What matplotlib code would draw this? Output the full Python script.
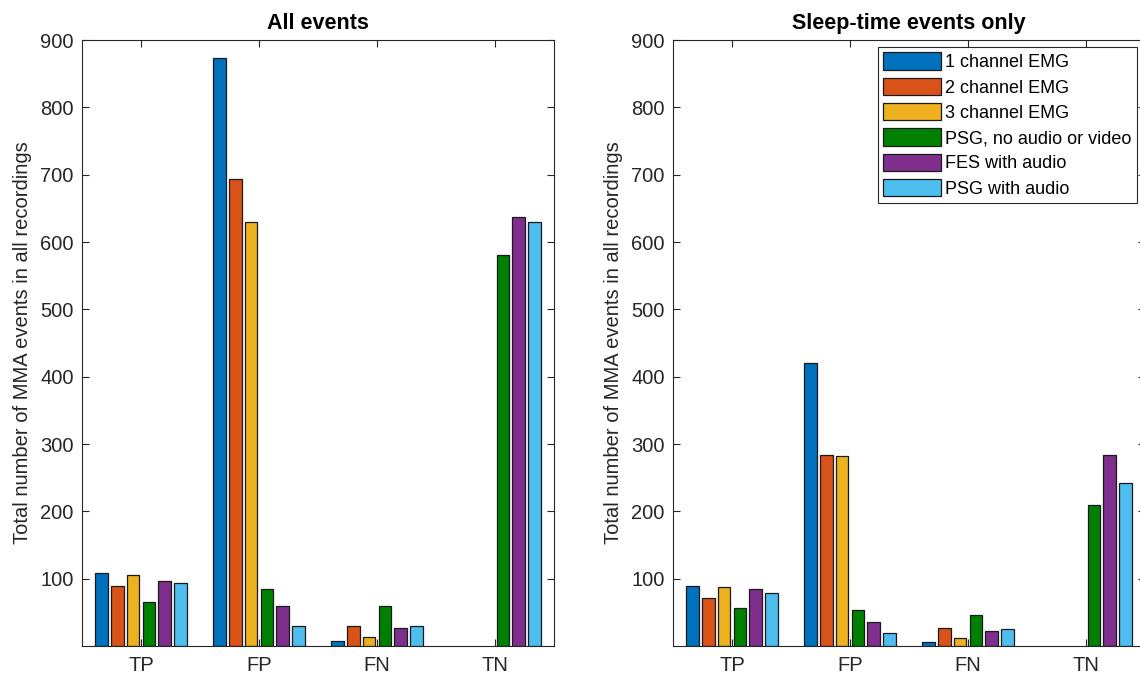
import matplotlib.pyplot as plt
import numpy as np

plt.rcParams['font.family'] = ['Liberation Sans', 'DejaVu Sans']

categories = ['TP', 'FP', 'FN', 'TN']
series_names = ['1 channel EMG', '2 channel EMG', '3 channel EMG',
                'PSG, no audio or video', 'FES with audio', 'PSG with audio']
colors = ['#0072BD', '#D95319', '#EDB120', '#008000', '#7E2F8E', '#4DBEEE']

# values per series, order TP FP FN TN
all_events = [
    [108, 874, 7, 0],
    [89, 693, 29, 0],
    [106, 629, 14, 0],
    [65, 85, 59, 581],
    [97, 60, 26, 637],
    [94, 30, 29, 629],
]
sleep_events = [
    [89, 420, 6, 0],
    [72, 284, 26, 0],
    [87, 282, 12, 0],
    [57, 54, 46, 209],
    [85, 36, 23, 283],
    [79, 19, 25, 242],
]
yticks = [100, 200, 300, 400, 500, 600, 700, 800, 900]

fig = plt.figure(figsize=(11.4, 6.74), dpi=100)
ax1 = fig.add_axes([82 / 1140, 28 / 674, 472 / 1140, 606 / 674])
ax2 = fig.add_axes([673 / 1140, 28 / 674, 472 / 1140, 606 / 674])

axis_color = '#262626'


def draw(ax, data, title):
    n = len(data)
    x = np.arange(1, len(categories) + 1)
    slot = 0.8 / n
    for i in range(n):
        offs = (i - (n - 1) / 2) * slot
        bars = ax.bar(x + offs, data[i], width=slot * 0.8, color=colors[i],
                      edgecolor='#1a1a1a', linewidth=0.9, label=series_names[i], zorder=2)
        # no outline for empty bars (MATLAB draws nothing there)
        for b, v in zip(bars, data[i]):
            if v == 0:
                b.set_linewidth(0)
    ax.set_xlim(0.5, 4.5)
    ax.set_ylim(0, 900)
    ax.set_xticks(x)
    ax.set_xticklabels(categories)
    ax.set_yticks(yticks)
    ax.tick_params(direction='in', top=True, right=True, length=5, width=0.8,
                   colors=axis_color, labelsize=14.5, pad=6)
    ax.tick_params(axis='x', pad=7)
    for sp in ax.spines.values():
        sp.set_color(axis_color)
        sp.set_linewidth(0.8)
    ax.set_title(title, fontsize=15.5, fontweight='bold', pad=8)
    ax.set_ylabel('Total number of MMA events in all recordings', fontsize=14.5,
                  color=axis_color, labelpad=6)


draw(ax1, all_events, 'All events')
draw(ax2, sleep_events, 'Sleep-time events only')

leg = ax2.legend(loc='upper right', bbox_to_anchor=(1137 / 1140, 1 - 47 / 674),
                 bbox_transform=fig.transFigure, borderaxespad=0, fontsize=13,
                 fancybox=False, edgecolor=axis_color, framealpha=1,
                 handlelength=3.2, handleheight=1.1, handletextpad=0.25,
                 labelspacing=0.36, borderpad=0.3)
leg.get_frame().set_linewidth(0.8)

fig.savefig('out.png', dpi=100)
